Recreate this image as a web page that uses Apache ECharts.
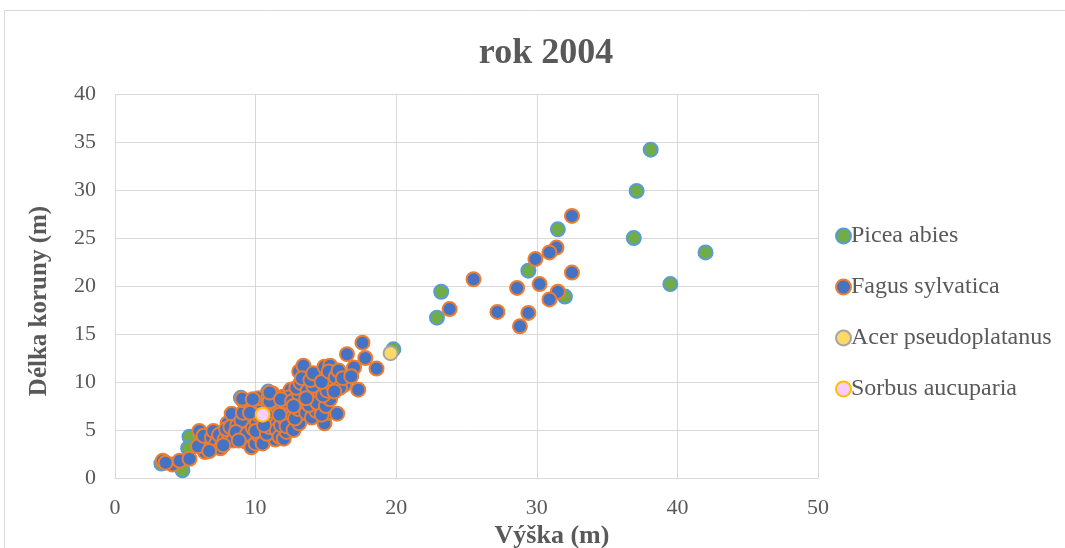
<!DOCTYPE html>
<html>
<head>
<meta charset="utf-8">
<script src="https://cdn.jsdelivr.net/npm/echarts@6/dist/echarts.min.js"></script>
<style>
  html, body { margin: 0; padding: 0; background: #fff; }
  #chart { width: 1065px; height: 548px; }
</style>
</head>
<body>
<div id="chart"></div>
<script>
// Tree height (m) vs crown length (m), survey of 2004
const seriesNames = ['Picea abies', 'Fagus sylvatica', 'Acer pseudoplatanus', 'Sorbus aucuparia'];

const piceaAbies = [
  [38.1, 34.2], [37.1, 29.9], [36.9, 25.0], [42.0, 23.5], [39.5, 20.2],
  [31.5, 25.9], [29.4, 21.6], [32.0, 18.9], [23.2, 19.4], [22.9, 16.7],
  [19.8, 13.4], [3.3, 1.5], [4.8, 0.8], [5.3, 4.3], [5.2, 3.1],
  [8.95, 8.35], [10.9, 9.0]
];

const fagusSylvatica = [
  // tall trees
  [32.5, 27.3], [31.4, 24.0], [30.9, 23.5], [29.9, 22.8], [32.5, 21.4],
  [30.2, 20.2], [28.6, 19.8], [31.5, 19.4], [30.9, 18.6], [25.5, 20.7],
  [23.8, 17.6], [27.2, 17.3], [29.4, 17.2], [28.8, 15.8],
  // small trees
  [3.4, 1.8], [4.1, 1.4], [4.6, 1.8], [5.3, 2.0], [3.6, 1.6],
  [6.0, 4.9], [6.2, 3.8], [6.4, 2.7], [5.9, 3.3], [6.3, 4.4],
  [6.9, 4.2], [7.0, 4.9], [6.8, 3.0], [7.2, 3.6], [7.4, 4.5], [7.5, 3.1], [6.7, 2.8],
  [8.0, 5.7], [7.8, 4.0], [8.3, 6.7], [8.1, 4.6], [8.4, 3.9], [7.9, 5.1], [8.2, 5.3], [7.7, 3.4],
  [8.7, 5.5], [9.5, 6.3], [9.5, 7.9], [8.9, 4.4], [9.2, 5.0], [9.0, 6.0], [8.6, 4.8],
  [9.3, 3.8], [9.1, 6.8], [9.4, 4.6], [8.8, 3.9], [9.1, 8.1], [9.05, 8.25],
  [9.7, 3.2], [10.0, 3.6], [10.2, 4.5], [9.8, 5.2], [10.1, 5.8], [10.3, 6.5], [9.9, 7.2],
  [10.4, 7.8], [10.2, 8.3], [9.6, 6.8], [10.5, 4.1], [10.0, 4.9], [9.8, 8.2],
  [10.5, 3.6], [10.9, 8.4], [11.2, 8.8], [11.4, 4.0], [10.8, 4.6], [11.0, 5.3], [11.3, 6.0],
  [10.7, 6.4], [11.1, 7.0], [11.4, 7.6], [10.9, 7.8], [11.5, 5.0], [10.6, 5.5], [11.0, 8.0],
  [11.0, 8.9],
  [11.7, 4.3], [12.0, 4.1], [12.2, 4.8], [11.8, 5.5], [12.1, 6.1], [12.4, 6.7], [11.9, 7.3],
  [12.3, 7.9], [12.0, 8.5], [12.5, 9.2], [11.7, 6.6], [12.2, 5.4], [12.4, 8.4], [11.8, 8.2],
  [12.7, 5.0], [13.1, 5.7], [13.4, 6.8], [12.8, 6.2], [13.0, 7.2], [13.3, 7.9], [12.6, 8.0],
  [13.1, 8.7], [13.4, 9.5], [12.9, 9.4], [13.2, 9.9], [13.1, 11.1], [13.4, 11.7], [12.7, 7.5], [13.3, 10.4],
  [13.6, 6.8], [14.0, 6.3], [14.3, 7.0], [13.8, 7.6], [14.1, 8.4], [14.4, 9.0], [13.7, 9.1],
  [14.1, 9.6], [14.3, 10.4], [13.9, 10.2], [14.1, 10.9], [14.4, 7.8], [13.6, 8.3],
  [14.9, 5.7], [15.1, 6.8], [14.7, 6.6], [15.0, 7.5], [15.3, 8.2], [14.8, 8.6], [15.1, 9.1],
  [15.4, 9.8], [15.1, 10.3], [14.9, 11.6], [15.3, 11.7], [14.7, 10.0], [15.2, 11.1],
  [15.8, 6.7], [16.3, 9.7], [16.5, 12.9], [15.7, 10.5], [16.0, 9.4], [15.9, 11.2], [16.2, 10.4], [15.6, 9.0],
  [17.3, 9.2], [17.0, 11.5], [17.6, 14.1], [17.8, 12.5], [18.6, 11.4], [16.8, 10.6]
];

const acerPseudoplatanus = [[19.6, 13.0]];
const sorbusAucuparia = [[10.5, 6.6]];

const xTicks = { min: 0, max: 50, interval: 10 };
const yTicks = { min: 0, max: 40, interval: 5 };

const FONT = '"Liberation Serif", "Times New Roman", serif';
const TEXT = '#595959';
const GRID = '#D9D9D9';

function scatter(name, data, fill, border, z) {
  return {
    name: name,
    type: 'scatter',
    data: data,
    symbol: 'circle',
    symbolSize: 14,
    z: z,
    itemStyle: { color: fill, borderColor: border, borderWidth: 2, opacity: 1 },
    emphasis: { disabled: true },
    animation: false
  };
}

const chart = echarts.init(document.getElementById('chart'), null, { renderer: 'canvas' });
chart.setOption({
  backgroundColor: '#ffffff',
  animation: false,
  title: {
    text: 'rok 2004',
    left: 541,
    top: 31,
    textAlign: 'center',
    textStyle: { fontFamily: FONT, fontSize: 36, fontWeight: 'bold', color: TEXT }
  },
  graphic: [
    {
      type: 'rect',
      shape: { x: 4.5, y: 10.5, width: 1080, height: 560 },
      style: { fill: 'none', stroke: GRID, lineWidth: 1 },
      silent: true, z: -10
    },
    {
      type: 'text',
      x: 552, y: 536,
      style: {
        text: 'Výška (m)', fontFamily: FONT, fontSize: 26, fontWeight: 'bold',
        fill: TEXT, align: 'center', verticalAlign: 'middle'
      }
    },
    {
      type: 'text',
      x: 40, y: 301, rotation: Math.PI / 2,
      style: {
        text: 'Délka koruny (m)', fontFamily: FONT, fontSize: 25, fontWeight: 'bold',
        fill: TEXT, align: 'center', verticalAlign: 'middle'
      }
    }
  ],
  legend: {
    orient: 'vertical',
    left: 830,
    top: 219,
    itemWidth: 15,
    itemHeight: 15,
    itemGap: 27,
    icon: 'circle',
    selectedMode: false,
    textStyle: { fontFamily: FONT, fontSize: 24, color: TEXT, padding: [0, 0, 0, -5] },
    data: seriesNames
  },
  grid: { left: 115, right: 247, top: 94, bottom: 70, containLabel: false },
  xAxis: {
    type: 'value',
    min: xTicks.min, max: xTicks.max, interval: xTicks.interval,
    axisLine: { show: true, lineStyle: { color: GRID, width: 1 } },
    axisTick: { show: false },
    splitLine: { show: true, lineStyle: { color: GRID, width: 1 } },
    axisLabel: { fontFamily: FONT, fontSize: 22, color: TEXT, margin: 19 }
  },
  yAxis: {
    type: 'value',
    min: yTicks.min, max: yTicks.max, interval: yTicks.interval,
    axisLine: { show: false },
    axisTick: { show: false },
    splitLine: { show: true, lineStyle: { color: GRID, width: 1 } },
    axisLabel: { fontFamily: FONT, fontSize: 22, color: TEXT, margin: 19 }
  },
  series: [
    scatter(seriesNames[0], piceaAbies, '#70AD47', '#5B9BD5', 2),
    scatter(seriesNames[1], fagusSylvatica, '#4472C4', '#ED7D31', 3),
    scatter(seriesNames[2], acerPseudoplatanus, '#FFD966', '#A5A5A5', 4),
    scatter(seriesNames[3], sorbusAucuparia, '#FFCCFF', '#FFC000', 5)
  ]
});
</script>
</body>
</html>
